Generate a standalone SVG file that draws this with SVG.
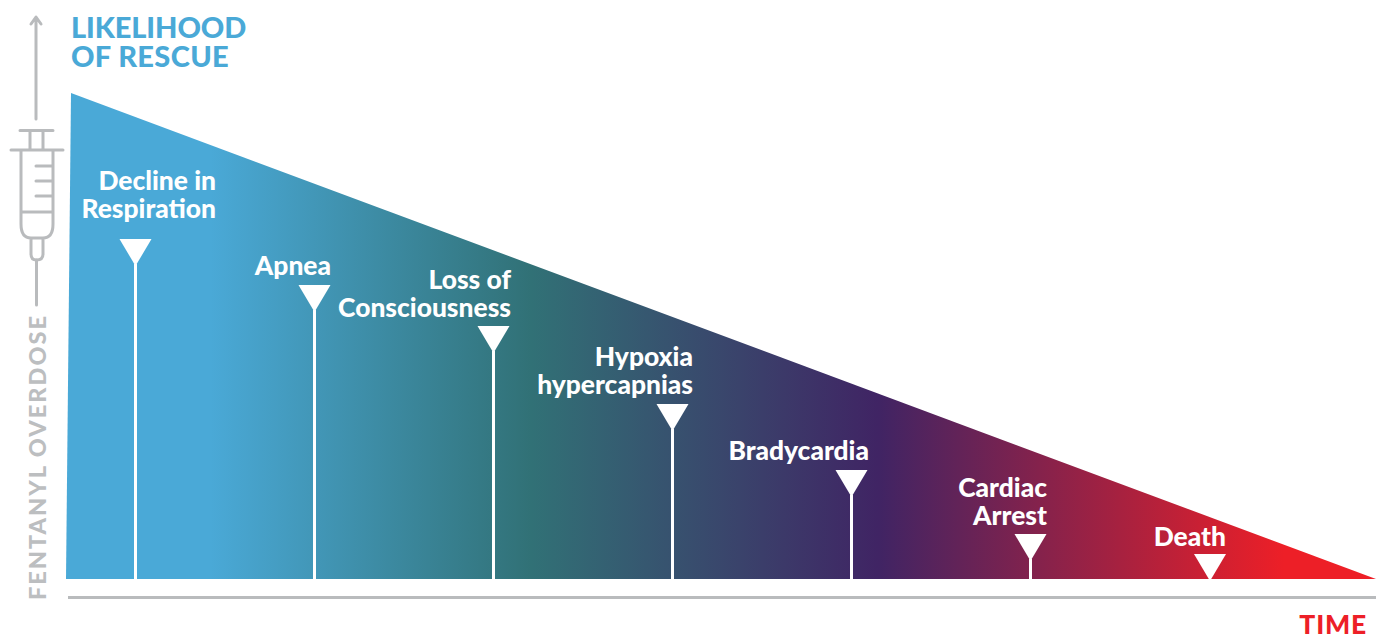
<svg xmlns="http://www.w3.org/2000/svg" width="1376" height="635" viewBox="0 0 1376 635">
<style>
text{font-family:"Lato","Liberation Sans",sans-serif;font-weight:700}
.l{fill:#fff;font-size:26.400px;text-anchor:end;font-weight:900}
.h{fill:#4aa9d7;font-size:29px;font-weight:900;letter-spacing:-.1px}
.s{fill:none;stroke:#b9bbbd;stroke-width:3;stroke-linecap:round;stroke-linejoin:round}
.w{fill:#fff}
.p{stroke:#fff;stroke-width:3;fill:none}
</style>
<defs>
<linearGradient id="g" gradientUnits="userSpaceOnUse" x1="66" y1="0" x2="1376" y2="0">
<stop offset="0" stop-color="#4aa9d7"/>
<stop offset=".11" stop-color="#4aa9d7"/>
<stop offset=".355" stop-color="#317176"/>
<stop offset=".62" stop-color="#402464"/>
<stop offset=".93" stop-color="#ed1f27"/>
<stop offset="1" stop-color="#ed1f27"/>
</linearGradient>
<path id="t" class="w" d="M-16 0H16L0 27Z"/>
</defs>
<g id="wedge"><path d="M71 93L1376 579H66Z" fill="url(#g)"/></g>
<g id="axes">
<path class="s" d="M36 119V18M31 24L36 17L41 24"/>
<path class="s" d="M36.500 260V305"/>
<path d="M68 597.500H1376" fill="none" stroke="#b9bbbd" stroke-width="3"/>
<text transform="translate(46 600) rotate(-90)" font-size="23.500" fill="#bcbec0" letter-spacing="2" style="font-weight:900">FENTANYL OVERDOSE</text>
<text x="1367" y="634" font-size="26.500" fill="#ed1f27" text-anchor="end" letter-spacing=".8" style="font-weight:900">TIME</text>
</g>
<g id="syringe">
<path class="s" d="M20 130.500H53M30 130.500V150M43 130.500V150M11 150H63M21 150V224Q21 238 31 238H43Q53 238 53 224V150M36 166H53M36 181H53M36 196H53M21 212H53M31 238V254Q31 260 36.500 260Q43 260 43 254V238"/>
</g>
<g id="title"><text class="h" x="71" y="38">LIKELIHOOD</text><text class="h" x="71" y="66.500" style="letter-spacing:.35px">OF RESCUE</text></g>
<g id="decline"><text class="l" x="216" y="190">Decline in</text><text class="l" x="216" y="218">Respiration</text><use href="#t" x="135.500" y="239"/><path class="p" d="M135.500 264V579"/></g>
<g id="apnea"><text class="l" x="331" y="275">Apnea</text><use href="#t" x="314.500" y="285"/><path class="p" d="M314.500 310V579"/></g>
<g id="consciousness"><text class="l" x="511" y="289">Loss of</text><text class="l" x="511" y="317">Consciousness</text><use href="#t" x="493.500" y="326"/><path class="p" d="M493.500 351V579"/></g>
<g id="hypoxia"><text class="l" x="693" y="366">Hypoxia</text><text class="l" x="693" y="394">hypercapnias</text><use href="#t" x="672.500" y="404"/><path class="p" d="M672.500 429V579"/></g>
<g id="bradycardia"><text class="l" x="869" y="460">Bradycardia</text><use href="#t" x="851.500" y="470"/><path class="p" d="M851.500 495V579"/></g>
<g id="arrest"><text class="l" x="1047" y="497">Cardiac</text><text class="l" x="1047" y="525">Arrest</text><use href="#t" x="1030.500" y="534"/><path class="p" d="M1030.500 559V579"/></g>
<g id="death"><text class="l" x="1226" y="546">Death</text><use href="#t" x="1210" y="554"/></g>
</svg>
